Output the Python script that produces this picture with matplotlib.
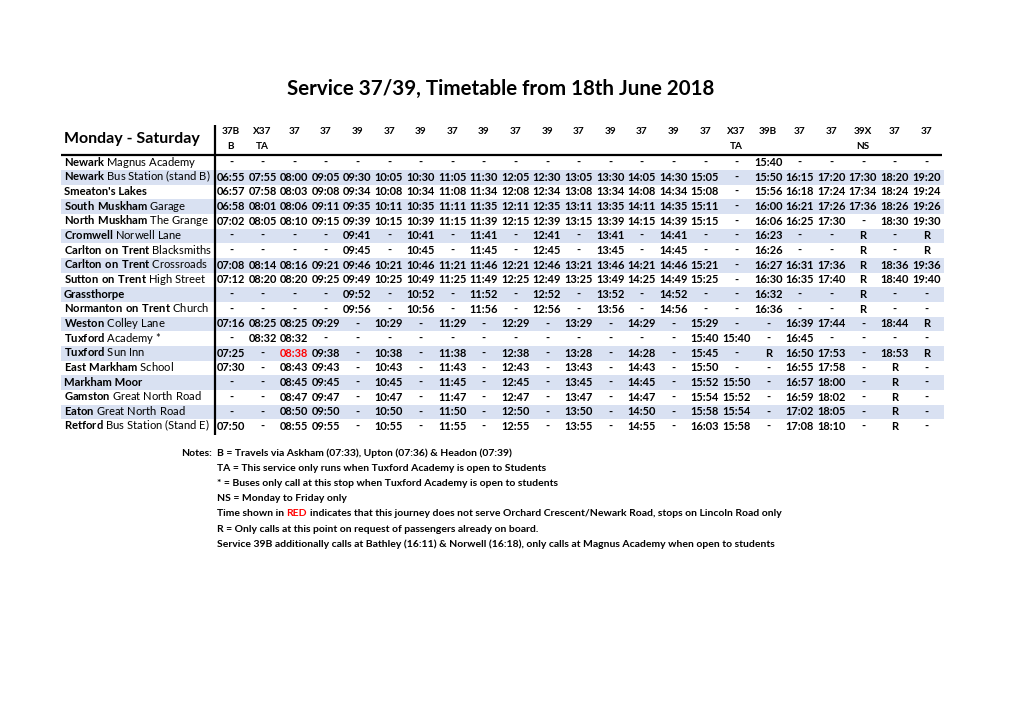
import matplotlib
matplotlib.use("Agg")
import matplotlib.pyplot as plt

FONT = ["Lato", "DejaVu Sans"]
plt.rcParams["mathtext.fontset"] = "custom"
plt.rcParams["mathtext.bf"] = "Lato:bold"
plt.rcParams["mathtext.rm"] = "Lato"

title = "Service 37/39, Timetable from 18th June 2018"
day_label = "Monday - Saturday"

services = ["37B", "X37", "37", "37", "39", "37", "39", "37", "39", "37", "39", "37",
            "39", "37", "39", "37", "X37", "39B", "37", "37", "39X", "37", "37"]
service_codes = ["B", "TA", "", "", "", "", "", "", "", "", "", "",
                 "", "", "", "", "TA", "", "", "", "NS", "", ""]

# (bold town, regular stop name)
stops = [
    ("Newark", "Magnus Academy"),
    ("Newark", "Bus Station (stand B)"),
    ("Smeaton's Lakes", ""),
    ("South Muskham", "Garage"),
    ("North Muskham", "The Grange"),
    ("Cromwell", "Norwell Lane"),
    ("Carlton on Trent", "Blacksmiths"),
    ("Carlton on Trent", "Crossroads"),
    ("Sutton on Trent", "High Street"),
    ("Grassthorpe", ""),
    ("Normanton on Trent", "Church"),
    ("Weston", "Colley Lane"),
    ("Tuxford", "Academy *"),
    ("Tuxford", "Sun Inn"),
    ("East Markham", "School"),
    ("Markham Moor", ""),
    ("Gamston", "Great North Road"),
    ("Eaton", "Great North Road"),
    ("Retford", "Bus Station (Stand E)"),
]

times = [
    "- - - - - - - - - - - - - - - - - 15:40 - - - - -",
    "06:55 07:55 08:00 09:05 09:30 10:05 10:30 11:05 11:30 12:05 12:30 13:05 13:30 14:05 14:30 15:05 - 15:50 16:15 17:20 17:30 18:20 19:20",
    "06:57 07:58 08:03 09:08 09:34 10:08 10:34 11:08 11:34 12:08 12:34 13:08 13:34 14:08 14:34 15:08 - 15:56 16:18 17:24 17:34 18:24 19:24",
    "06:58 08:01 08:06 09:11 09:35 10:11 10:35 11:11 11:35 12:11 12:35 13:11 13:35 14:11 14:35 15:11 - 16:00 16:21 17:26 17:36 18:26 19:26",
    "07:02 08:05 08:10 09:15 09:39 10:15 10:39 11:15 11:39 12:15 12:39 13:15 13:39 14:15 14:39 15:15 - 16:06 16:25 17:30 - 18:30 19:30",
    "- - - - 09:41 - 10:41 - 11:41 - 12:41 - 13:41 - 14:41 - - 16:23 - - R - R",
    "- - - - 09:45 - 10:45 - 11:45 - 12:45 - 13:45 - 14:45 - - 16:26 - - R - R",
    "07:08 08:14 08:16 09:21 09:46 10:21 10:46 11:21 11:46 12:21 12:46 13:21 13:46 14:21 14:46 15:21 - 16:27 16:31 17:36 R 18:36 19:36",
    "07:12 08:20 08:20 09:25 09:49 10:25 10:49 11:25 11:49 12:25 12:49 13:25 13:49 14:25 14:49 15:25 - 16:30 16:35 17:40 R 18:40 19:40",
    "- - - - 09:52 - 10:52 - 11:52 - 12:52 - 13:52 - 14:52 - - 16:32 - - R - -",
    "- - - - 09:56 - 10:56 - 11:56 - 12:56 - 13:56 - 14:56 - - 16:36 - - R - -",
    "07:16 08:25 08:25 09:29 - 10:29 - 11:29 - 12:29 - 13:29 - 14:29 - 15:29 - - 16:39 17:44 - 18:44 R",
    "- 08:32 08:32 - - - - - - - - - - - - 15:40 15:40 - 16:45 - - - -",
    "07:25 - 08:38 09:38 - 10:38 - 11:38 - 12:38 - 13:28 - 14:28 - 15:45 - R 16:50 17:53 - 18:53 R",
    "07:30 - 08:43 09:43 - 10:43 - 11:43 - 12:43 - 13:43 - 14:43 - 15:50 - - 16:55 17:58 - R -",
    "- - 08:45 09:45 - 10:45 - 11:45 - 12:45 - 13:45 - 14:45 - 15:52 15:50 - 16:57 18:00 - R -",
    "- - 08:47 09:47 - 10:47 - 11:47 - 12:47 - 13:47 - 14:47 - 15:54 15:52 - 16:59 18:02 - R -",
    "- - 08:50 09:50 - 10:50 - 11:50 - 12:50 - 13:50 - 14:50 - 15:58 15:54 - 17:02 18:05 - R -",
    "07:50 - 08:55 09:55 - 10:55 - 11:55 - 12:55 - 13:55 - 14:55 - 16:03 15:58 - 17:08 18:10 - R -",
]
red_cells = [(13, 2)]  # Tuxford Sun Inn, third journey

notes = [
    [("B = Travels via Askham (07:33), Upton (07:36) & Headon (07:39)", "black")],
    [("TA = This service only runs when Tuxford Academy is open to Students", "black")],
    [("* = Buses only call at this stop when Tuxford Academy is open to students", "black")],
    [("NS = Monday to Friday only", "black")],
    [("Time shown in", "black"), ("RED", "red"),
     ("indicates that this journey does not serve Orchard Crescent/Newark Road, stops on Lincoln Road only", "black")],
    [("R = Only calls at this point on request of passengers already on board.", "black")],
    [("Service 39B additionally calls at Bathley (16:11) & Norwell (16:18), only calls at Magnus Academy when open to students", "black")],
]

band = "#d9e1f2"

fig = plt.figure(figsize=(10.2, 7.21), dpi=100)
ax = fig.add_axes([0, 0, 1, 1])
ax.set_xlim(0, 1020)
ax.set_ylim(721, 0)
ax.axis("off")
fig.canvas.draw()
renderer = fig.canvas.get_renderer()


def text_width(s, size, weight):
    t = ax.text(0, 0, s, fontsize=size, fontweight=weight, family=FONT)
    w = t.get_window_extent(renderer).width
    t.remove()
    return w


def run_text(x, y, parts, size):
    # parts: list of (text, weight, color), joined by a single space
    for txt, weight, color in parts:
        ax.text(x, y, txt, fontsize=size, fontweight=weight, color=color,
                family=FONT, ha="left", va="center")
        x += text_width(txt + " |", size, weight) - text_width("|", size, weight)
    return x


def stop_label(town, place):
    if not place:
        return town, "bold"
    return "$\\mathbf{" + town.replace(" ", "\\ ") + "}$ " + place, "normal"


ax.text(500.5, 89, title, fontsize=14.8, fontweight="bold", family=FONT,
        ha="center", va="center")
ax.text(64, 139, day_label, fontsize=11.5, fontweight="bold", family=FONT,
        ha="left", va="center")

col_x0, col_dx = 231, 31.6
row_y0, row_dy = 162.5, 14.67
left, right = 61, 944

for j, (svc, code) in enumerate(zip(services, service_codes)):
    cx = col_x0 + j * col_dx
    ax.text(cx, 132, svc, fontsize=7.2, fontweight="bold", family=FONT,
            ha="center", va="center")
    if code:
        ax.text(cx, 146.5, code, fontsize=7.2, fontweight="bold", family=FONT,
                ha="center", va="center")

for i, ((town, place), row) in enumerate(zip(stops, times)):
    y = row_y0 + i * row_dy
    if i % 2 == 1:
        ax.axhspan(y - row_dy / 2, y + row_dy / 2, xmin=left / 1020,
                   xmax=right / 1020, color=band, lw=0, zorder=0)
    label, weight = stop_label(town, place)
    ax.text(64, y, label, fontsize=8.1, fontweight=weight, family=FONT,
            ha="left", va="baseline", transform=ax.transData,
            ).set_y(y + 3)
    for j, val in enumerate(row.split()):
        color = "red" if (i, j) in red_cells else "black"
        ax.text(col_x0 + j * col_dx, y, val, fontsize=7.9, fontweight="bold",
                family=FONT, ha="center", va="center", color=color)

ax.plot([left, right - 2], [154.5, 154.5], color="black", lw=1.6,
        solid_capstyle="butt")
ax.plot([215, 215], [125, 435], color="black", lw=1.6, solid_capstyle="butt")

ax.text(212, 453, "Notes:", fontsize=7.5, fontweight="bold", family=FONT,
        ha="right", va="center")
for k, line in enumerate(notes):
    run_text(217, 453 + k * 15.2, [(t, "bold", c) for t, c in line], 7.5)

fig.savefig("out.png", dpi=100)
